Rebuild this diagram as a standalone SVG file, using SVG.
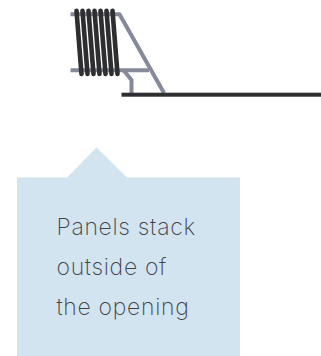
<svg xmlns="http://www.w3.org/2000/svg" width="321" height="356" viewBox="0 0 321 356">
<style>
.rail{fill:none;stroke:#85899a;stroke-width:4;stroke-linejoin:round}
.panel{fill:none;stroke:#2e2e30;stroke-width:4.6;stroke-linecap:round}
.label{font-family:"Inter","Liberation Sans",sans-serif;font-size:23px;font-weight:200;fill:#3f4247;letter-spacing:.68px}
</style>
<rect width="321" height="356" fill="#fff"/>
<g id="frame">
<path class="rail" d="M70.500 14.200H119.500L164 93"/>
<path class="rail" d="M70.500 70.300H149"/>
<path class="rail" d="M123.500 70.300L131.500 80V93"/>
</g>
<g id="panels">
<path class="panel" d="M76.500 10.800L81.500 74"/>
<path class="panel" d="M82.500 10.800L87.500 74"/>
<path class="panel" d="M88.500 10.800L93.500 74"/>
<path class="panel" d="M94.500 10.800L99.500 74"/>
<path class="panel" d="M100.500 10.800L105.500 74"/>
<path class="panel" d="M106.500 10.800L111.500 74"/>
<path class="panel" d="M112.500 10.800L117.500 74"/>
</g>
<g id="track">
<rect x="121.500" y="92.700" width="199.500" height="4" fill="#2e2e30"/>
</g>
<g id="callout">
<path d="M17 177.500H67L96.500 147.500L127 177.500H240V356H17Z" fill="#d3e4f1"/>
<text class="label" x="56.500" y="235">Panels stack</text>
<text class="label" x="56.500" y="275">outside of</text>
<text class="label" x="56.500" y="314.500">the opening</text>
</g>
</svg>
